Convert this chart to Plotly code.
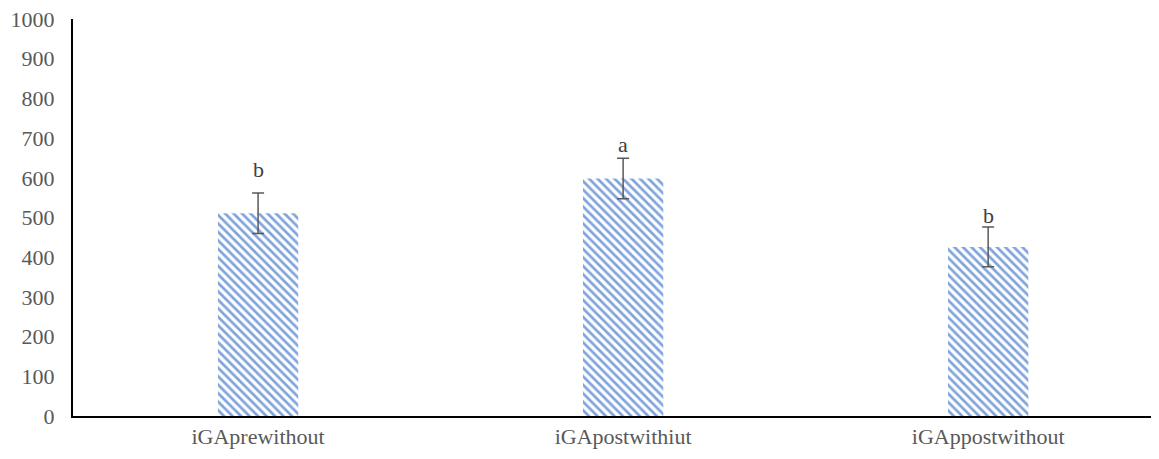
import plotly.graph_objects as go

categories = ["iGAprewithout", "iGApostwithiut", "iGAppostwithout"]
values = [511, 598, 426]
errors = [51, 51, 50]
letters = ["b", "a", "b"]
letter_heights = [620, 683, 506]
y_ticks = [0, 100, 200, 300, 400, 500, 600, 700, 800, 900, 1000]

font_family = "Liberation Serif, Times New Roman, serif"
gray = "#595959"

fig = go.Figure()
fig.add_trace(go.Bar(
    x=categories,
    y=values,
    width=0.22,
    marker=dict(
        color="white",
        line=dict(width=0),
        pattern=dict(shape="\\", fgcolor="#7fa4db", bgcolor="white", size=6, solidity=0.45, fillmode="replace"),
    ),
    error_y=dict(type="data", array=errors, visible=True, color=gray, thickness=1.5, width=6),
    showlegend=False,
))

for c, h, l in zip(categories, letter_heights, letters):
    fig.add_annotation(x=c, y=h, text=l, showarrow=False, yanchor="middle",
                       font=dict(family=font_family, size=22, color="#404040"))

fig.update_layout(
    width=1151, height=451,
    margin=dict(l=65, r=0, t=11, b=43),
    plot_bgcolor="white", paper_bgcolor="white",
    font=dict(family=font_family, size=22, color=gray),
)
fig.update_xaxes(
    type="category", range=[-0.507, 2.468],
    showline=True, linecolor="black", linewidth=2,
    showgrid=False, ticks="", tickfont=dict(size=22, color=gray),
    ticklabeloverflow="allow",
)
fig.update_yaxes(
    range=[0, 1000], tickvals=y_ticks,
    showline=True, linecolor="black", linewidth=2,
    showgrid=False, ticks="", zeroline=False,
    tickfont=dict(size=22, color=gray), ticklabelstandoff=12,
    ticklabeloverflow="allow",
)
fig.write_html("out.html")
